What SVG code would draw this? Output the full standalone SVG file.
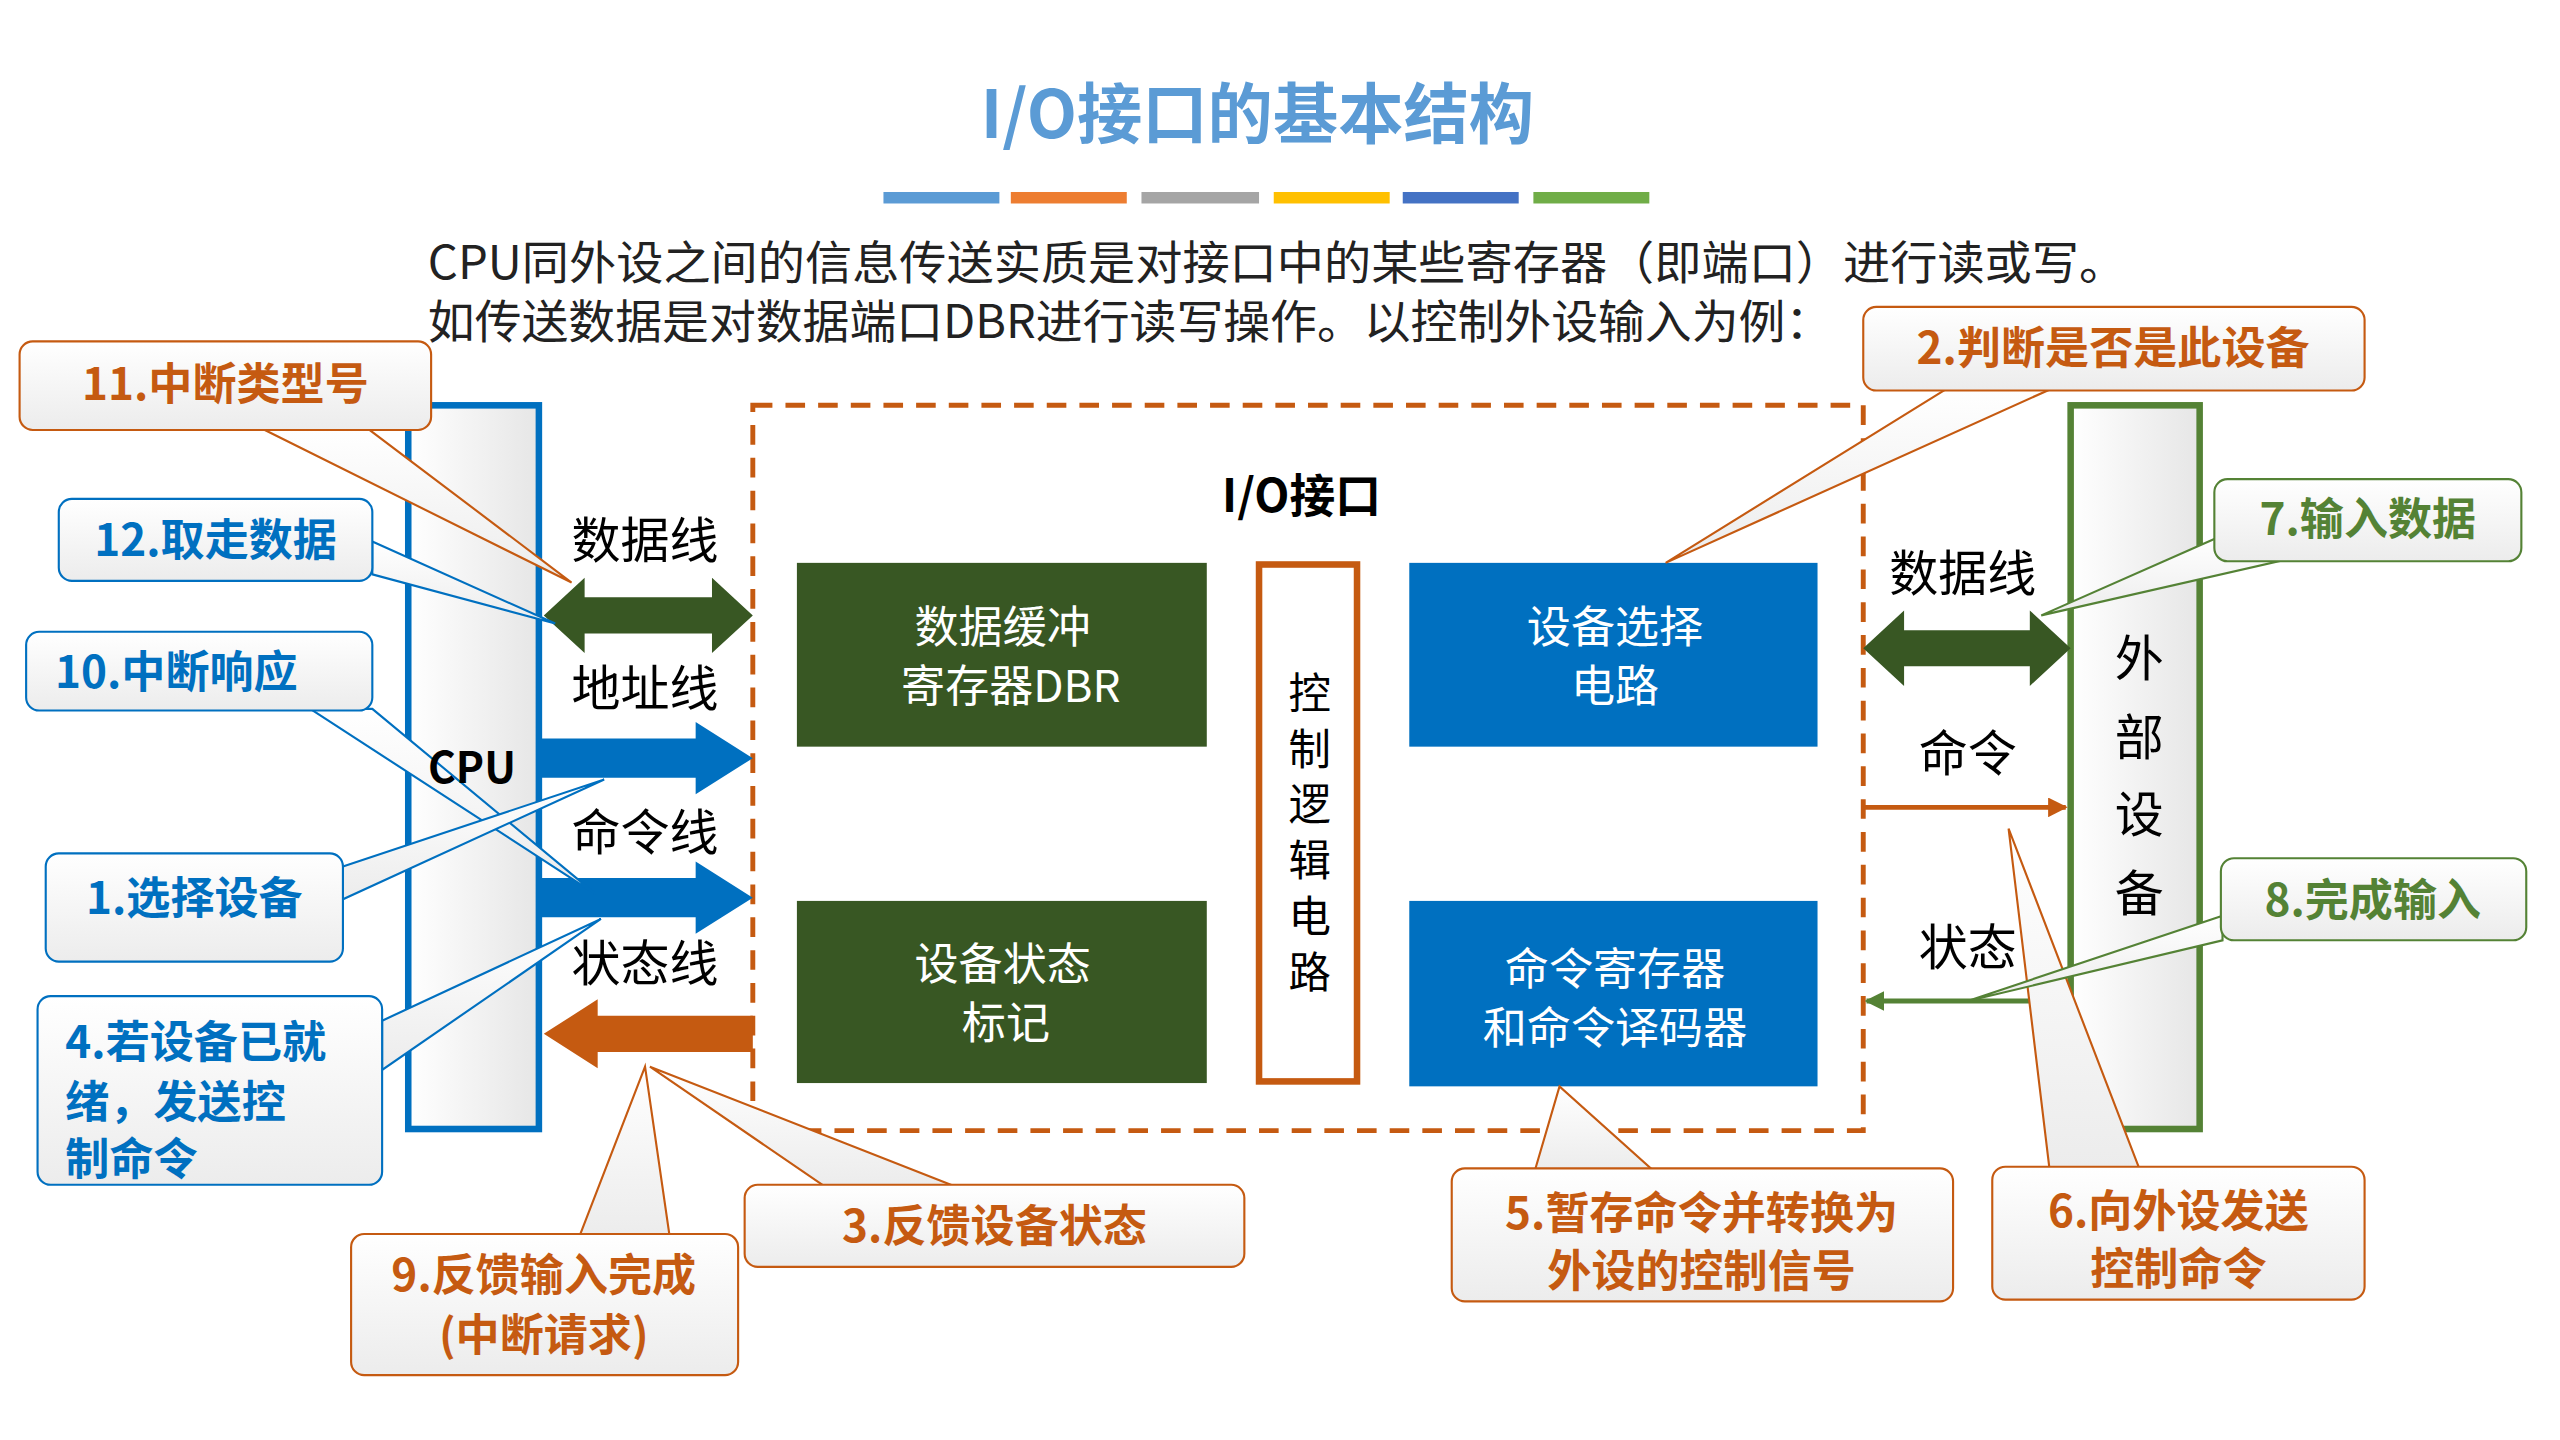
<svg xmlns="http://www.w3.org/2000/svg" width="2560" height="1440" viewBox="0 0 2560 1440">
<defs>
<linearGradient id="cg" x1="0" y1="0" x2="0" y2="1"><stop offset="0" stop-color="#ffffff"/><stop offset="1" stop-color="#ececec"/></linearGradient>
<linearGradient id="vg" x1="0" y1="0" x2="1" y2="0"><stop offset="0" stop-color="#ffffff"/><stop offset="1" stop-color="#e6e6e6"/></linearGradient>
<marker id="ao" viewBox="0 0 10 10" refX="9" refY="5" markerWidth="4" markerHeight="4" orient="auto"><path d="M0,0 L10,5 L0,10 z" fill="#c55a11"/></marker>
<marker id="ag" viewBox="0 0 10 10" refX="9" refY="5" markerWidth="4" markerHeight="4" orient="auto"><path d="M0,0 L10,5 L0,10 z" fill="#548235"/></marker>
</defs>
<style>
text{font-family:"Noto Sans CJK SC","Noto Sans",sans-serif}
.c{text-anchor:middle}
.w{fill:#fff;font-size:27px}
.lb{font-size:30px;fill:#000}
.co{fill:url(#cg);stroke:#c55a11;stroke-width:1.3}
.cb{fill:url(#cg);stroke:#0070c0;stroke-width:1.3}
.to{fill:#c55a11;font-size:27px;font-weight:bold}
.tb{fill:#0070c0;font-size:27px;font-weight:bold}
</style>
<rect width="2560" height="1440" fill="#fff"/>
<g transform="scale(1.633,1.641)">
<g id="title">
<text x="770" y="84" class="c" font-size="40" font-weight="bold" fill="#5b9bd5">I/O接口的基本结构</text>
<rect x="541" y="117" width="71" height="7" fill="#5b9bd5"/><rect x="619" y="117" width="71" height="7" fill="#ed7d31"/><rect x="699" y="117" width="72" height="7" fill="#a5a5a5"/><rect x="780" y="117" width="71" height="7" fill="#ffc000"/><rect x="859" y="117" width="71" height="7" fill="#4472c4"/><rect x="939" y="117" width="71" height="7" fill="#70ad47"/>
<text x="262" y="170" font-size="28" fill="#222" textLength="1040" lengthAdjust="spacingAndGlyphs">CPU同外设之间的信息传送实质是对接口中的某些寄存器（即端口）进行读或写。</text>
<text x="262" y="206" font-size="28" fill="#222" textLength="860" lengthAdjust="spacingAndGlyphs">如传送数据是对数据端口DBR进行读写操作。以控制外设输入为例：</text>
</g>
<g id="cpu"><rect x="250" y="247" width="80" height="441" fill="url(#vg)" stroke="#0070c0" stroke-width="4"/></g>
<g id="io"><rect x="461" y="247" width="680" height="442" fill="none" stroke="#c55a11" stroke-width="3" stroke-dasharray="12,8"/><text x="797" y="312" class="c" font-size="28" font-weight="bold">I/O接口</text></g>
<g id="dbr"><rect x="488" y="343" width="251" height="112" fill="#385723"/><text x="614" y="392" class="c w">数据缓冲</text><text x="619" y="428" class="c w">寄存器DBR</text></g>
<g id="status"><rect x="488" y="549" width="251" height="111" fill="#385723"/><text x="614" y="597" class="c w">设备状态</text><text x="616" y="633" class="c w">标记</text></g>
<g id="ctrl"><rect x="771" y="344" width="60" height="315" fill="#fff" stroke="#c55a11" stroke-width="4"/>
<g class="c" font-size="26" fill="#000"><text x="802" y="432">控</text><text x="802" y="466">制</text><text x="802" y="500">逻</text><text x="802" y="534">辑</text><text x="802" y="568">电</text><text x="802" y="602">路</text></g></g>
<g id="sel"><rect x="863" y="343" width="250" height="112" fill="#0070c0"/><text x="989" y="392" class="c w">设备选择</text><text x="989" y="428" class="c w">电路</text></g>
<g id="cmd"><rect x="863" y="549" width="250" height="113" fill="#0070c0"/><text x="989" y="600" class="c w">命令寄存器</text><text x="989" y="636" class="c w">和命令译码器</text></g>
<g id="dev"><rect x="1268" y="247" width="79" height="441" fill="url(#vg)" stroke="#548235" stroke-width="4"/>
<g class="c" font-size="30"><text x="1310" y="412">外</text><text x="1310" y="460">部</text><text x="1310" y="507">设</text><text x="1310" y="555">备</text></g></g>
<g id="connectors">
<polygon points="333,375 358,352 358,364 436,364 436,352 461,375 436,398 436,386 358,386 358,398" fill="#385723"/>
<polygon points="330,450 426,450 426,440 461,462 426,484 426,474 330,474" fill="#0070c0"/>
<polygon points="330,535 426,535 426,525 461,547 426,569 426,559 330,559" fill="#0070c0"/>
<polygon points="461,619 366,619 366,609 333,630 366,651 366,641 461,641" fill="#c55a11"/>
<polygon points="1141,395 1166,372 1166,384 1243,384 1243,372 1268,395 1243,418 1243,406 1166,406 1166,418" fill="#385723"/>
<line x1="1141" y1="492" x2="1265" y2="492" stroke="#c55a11" stroke-width="3" marker-end="url(#ao)"/>
<line x1="1268" y1="610" x2="1143" y2="610" stroke="#548235" stroke-width="3" marker-end="url(#ag)"/>
<g class="c lb"><text x="395" y="340">数据线</text><text x="395" y="430">地址线</text><text x="395" y="518">命令线</text><text x="395" y="598">状态线</text><text x="1202" y="360">数据线</text><text x="1205" y="470">命令</text><text x="1205" y="588">状态</text></g>
</g>
<g id="c11"><polygon class="co" points="160,261 350,355 225,261"/><rect class="co" x="12" y="208" width="252" height="54" rx="8"/><text x="138" y="244" class="c to">11.中断类型号</text></g>
<g id="c12"><polygon class="cb" points="228,330 340,380 228,350"/><rect class="cb" x="36" y="304" width="192" height="50" rx="8"/><text x="132" y="339" class="c tb">12.取走数据</text></g>
<g id="c10"><polygon class="cb" points="190,432 365,545 228,432"/><rect class="cb" x="16" y="385" width="212" height="48" rx="8"/><text x="108" y="419" class="c tb">10.中断响应</text></g>
<g id="c1"><polygon class="cb" points="210,528 370,475 210,548"/><rect class="cb" x="28" y="520" width="182" height="66" rx="8"/><text x="119" y="557" class="c tb">1.选择设备</text></g>
<g id="c4"><polygon class="cb" points="234,622 368,560 234,652"/><rect class="cb" x="23" y="607" width="211" height="115" rx="8"/><text x="40" y="645" class="tb">4.若设备已就</text><text x="40" y="681" class="tb">绪，发送控</text><text x="40" y="716" class="tb">制命令</text></g>
<g id="c9"><polygon class="co" points="355,753 395,650 410,753"/><rect class="co" x="215" y="752" width="237" height="86" rx="8"/><text x="333" y="787" class="c to">9.反馈输入完成</text><text x="333" y="823" class="c to">(中断请求)</text></g>
<g id="c3"><polygon class="co" points="505,723 398,650 585,723"/><rect class="co" x="456" y="722" width="306" height="50" rx="8"/><text x="609" y="757" class="c to">3.反馈设备状态</text></g>
<g id="c5"><polygon class="co" points="940,713 955,662 1012,713"/><rect class="co" x="889" y="712" width="307" height="81" rx="8"/><text x="1042" y="749" class="c to">5.暂存命令并转换为</text><text x="1042" y="784" class="c to">外设的控制信号</text></g>
<g id="c6"><polygon class="co" points="1255,712 1230,505 1310,712"/><rect class="co" x="1220" y="711" width="228" height="81" rx="8"/><text x="1334" y="748" class="c to">6.向外设发送</text><text x="1334" y="783" class="c to">控制命令</text></g>
<g id="c2"><polygon class="co" points="1192,237 1020,343 1256,237"/><rect class="co" x="1141" y="187" width="307" height="51" rx="8"/><text x="1294" y="222" class="c to">2.判断是否是此设备</text></g>
<g id="c7"><polygon class="cb" style="stroke:#548235" points="1357,328 1250,375 1400,341"/><rect class="cb" style="stroke:#548235" x="1356" y="292" width="188" height="50" rx="8"/><text x="1450" y="326" class="c to" style="fill:#548235">7.输入数据</text></g>
<g id="c8"><polygon class="cb" style="stroke:#548235" points="1361,558 1205,610 1361,573"/><rect class="cb" style="stroke:#548235" x="1360" y="523" width="187" height="50" rx="8"/><text x="1453" y="558" class="c to" style="fill:#548235">8.完成输入</text></g>
<g id="cpulabel"><text x="289" y="477" class="c" font-size="26" font-weight="bold">CPU</text></g>
</g>
</svg>
